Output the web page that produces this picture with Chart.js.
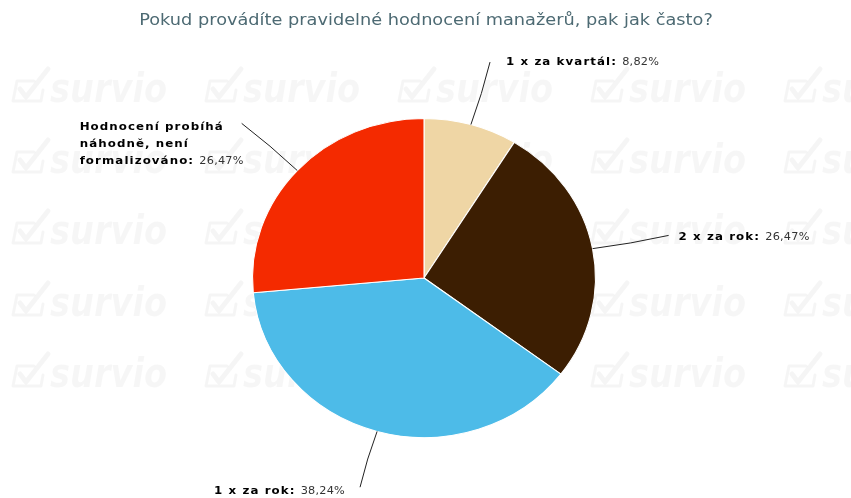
<!DOCTYPE html>
<html>
<head>
<meta charset="utf-8">
<script src="https://cdn.jsdelivr.net/npm/chart.js@4.4.1/dist/chart.umd.min.js"></script>
<style>
  html, body { margin: 0; padding: 0; background: #ffffff; }
  #wrap { width: 851px; height: 498px; position: relative; }
</style>
</head>
<body>
<div id="wrap"><canvas id="pie" width="851" height="498"></canvas></div>
<script>
// Survey answers and their shares (percent)
const titleText = 'Pokud provádíte pravidelné hodnocení manažerů, pak jak často?';
const categories = [
  '1 x za kvartál',
  '2 x za rok',
  '1 x za rok',
  'Hodnocení probíhá náhodně, není formalizováno'
];
const shares = [8.82, 26.47, 38.24, 26.47];
const valueLabels = ['8,82%', '26,47%', '38,24%', '26,47%'];
const sliceColors = ['#efd6a5', '#3c1e02', '#4dbbe8', '#f42a00'];

// horizontal stretch of the whole drawing
const SX = 1.075;
// connector length, text gap and vertical nudge for each slice label
const connectorLen = [65, 72, 58, 70];
const textGap = [16, 10, 15, -2];
const textNudge = [0, 2, 4, 4];

// faint repeating "survio" watermark behind the chart
const watermark = {
  id: 'watermark',
  beforeDraw(chart) {
    const ctx = chart.ctx;
    ctx.save();
    ctx.fillStyle = '#ffffff';
    ctx.fillRect(0, 0, chart.width, chart.height);
    const cols = [12, 205, 398, 591, 784];
    const rows = [88, 159, 230, 302, 373];
    ctx.strokeStyle = 'rgba(0,0,0,0.04)';
    ctx.fillStyle = 'rgba(0,0,0,0.035)';
    ctx.lineCap = 'round';
    ctx.lineJoin = 'round';
    for (const y of rows) {
      for (const x of cols) {
        // box with a tick
        ctx.lineWidth = 3;
        ctx.beginPath();
        ctx.moveTo(x + 22, y - 7);
        ctx.lineTo(x + 5, y - 7);
        ctx.lineTo(x + 1, y + 13);
        ctx.lineTo(x + 29, y + 13);
        ctx.lineTo(x + 31, y + 2);
        ctx.stroke();
        ctx.lineWidth = 5;
        ctx.beginPath();
        ctx.moveTo(x + 8, y + 1);
        ctx.lineTo(x + 14, y + 9);
        ctx.lineTo(x + 36, y - 19);
        ctx.stroke();
        ctx.font = 'italic bold 41px "DejaVu Sans", sans-serif';
        ctx.textBaseline = 'alphabetic';
        ctx.textAlign = 'left';
        ctx.save();
        ctx.translate(x + 38, y + 14);
        ctx.scale(0.82, 1);
        ctx.fillText('survio', 0, 0);
        ctx.restore();
      }
    }
    ctx.restore();
  }
};

// stretch the pie horizontally around its centre
const stretch = {
  id: 'stretch',
  beforeDatasetsDraw(chart) {
    const a = chart.getDatasetMeta(0).data[0];
    const ctx = chart.ctx;
    ctx.save();
    ctx.translate(a.x, a.y);
    ctx.scale(SX, 1);
    ctx.translate(-a.x, -a.y);
  },
  afterDatasetsDraw(chart) {
    chart.ctx.restore();
  }
};

// title text
const titlePlugin = {
  id: 'titleText',
  afterDraw(chart) {
    const ctx = chart.ctx;
    ctx.save();
    ctx.font = '16.5px "DejaVu Sans", sans-serif';
    ctx.fillStyle = '#4d6a73';
    ctx.textBaseline = 'alphabetic';
    ctx.textAlign = 'center';
    ctx.translate(426, 25);
    ctx.scale(SX, 1);
    ctx.fillText(titleText, 0, 0);
    ctx.restore();
  }
};

// outside labels with connector lines
const BOLD = 'bold 11px "DejaVu Sans", sans-serif';
const NORMAL = '10.5px "DejaVu Sans", sans-serif';
const BOLD_SP = '1px';
const NORMAL_SP = '0.2px';
const LINE_H = 17;
const WRAP = 195;

function setFont(ctx, bold) {
  ctx.font = bold ? BOLD : NORMAL;
  ctx.letterSpacing = bold ? BOLD_SP : NORMAL_SP;
}

function wrapLabel(ctx, label, value) {
  const tokens = [];
  const words = (label + ':').split(' ');
  words.forEach(w => tokens.push({ t: w, bold: true }));
  tokens.push({ t: value, bold: false });
  const lines = [];
  let cur = [], curW = 0;
  for (const tk of tokens) {
    setFont(ctx, tk.bold);
    const w = ctx.measureText(tk.t).width * SX;
    setFont(ctx, true);
    const sp = cur.length ? ctx.measureText(' ').width * SX : 0;
    if (cur.length && curW + sp + w > WRAP) {
      lines.push({ tokens: cur, width: curW });
      cur = [tk]; curW = w;
    } else {
      cur.push(tk); curW += sp + w;
    }
  }
  if (cur.length) lines.push({ tokens: cur, width: curW });
  return lines;
}

const outLabels = {
  id: 'outLabels',
  afterDatasetsDraw(chart) {
    const ctx = chart.ctx;
    const arcs = chart.getDatasetMeta(0).data;
    arcs.forEach((arc, i) => {
      const mid = (arc.startAngle + arc.endAngle) / 2;
      const c = Math.cos(mid), s = Math.sin(mid);
      const r = arc.outerRadius;
      const x0 = arc.x + SX * r * c, y0 = arc.y + r * s;
      const L = connectorLen[i];
      const x1 = x0 + SX * L * c, y1 = y0 + L * s;
      // gently bowed connector
      const mx = (x0 + x1) / 2, my = (y0 + y1) / 2;
      const len = Math.hypot(x1 - x0, y1 - y0);
      const nx = -(y1 - y0) / len, ny = (x1 - x0) / len;
      const bow = 1.8;
      const cx = mx + nx * bow, cy = my + ny * bow;
      ctx.save();
      ctx.strokeStyle = '#222';
      ctx.lineWidth = 1;
      ctx.beginPath();
      ctx.moveTo(x0, y0);
      ctx.quadraticCurveTo(cx, cy, x1, y1);
      ctx.stroke();

      const lines = wrapLabel(ctx, categories[i], valueLabels[i]);
      const maxW = Math.max(...lines.map(l => l.width));
      const right = c >= 0;
      const left = right ? x1 + textGap[i] : x1 - textGap[i] - maxW;
      const top = y1 + textNudge[i];
      ctx.textBaseline = 'middle';
      ctx.textAlign = 'left';
      lines.forEach((ln, k) => {
        let x = left;
        const y = top + k * LINE_H;
        ln.tokens.forEach(tk => {
          setFont(ctx, tk.bold);
          ctx.fillStyle = tk.bold ? '#000000' : '#333333';
          ctx.save();
          ctx.translate(x, y);
          ctx.scale(SX, 1);
          ctx.fillText(tk.t, 0, 0);
          ctx.restore();
          x += ctx.measureText(tk.t).width * SX;
          setFont(ctx, true);
          x += ctx.measureText(' ').width * SX;
        });
      });
      ctx.restore();
    });
  }
};

new Chart(document.getElementById('pie'), {
  type: 'pie',
  data: {
    labels: categories,
    datasets: [{
      data: shares,
      backgroundColor: sliceColors,
      borderColor: '#ffffff',
      borderWidth: 1
    }]
  },
  options: {
    responsive: false,
    animation: false,
    layout: { padding: { left: 264, right: 267, top: 118, bottom: 60 } },
    plugins: {
      legend: { display: false },
      tooltip: { enabled: false },
      title: { display: false }
    }
  },
  plugins: [watermark, stretch, outLabels, titlePlugin]
});
</script>
</body>
</html>
